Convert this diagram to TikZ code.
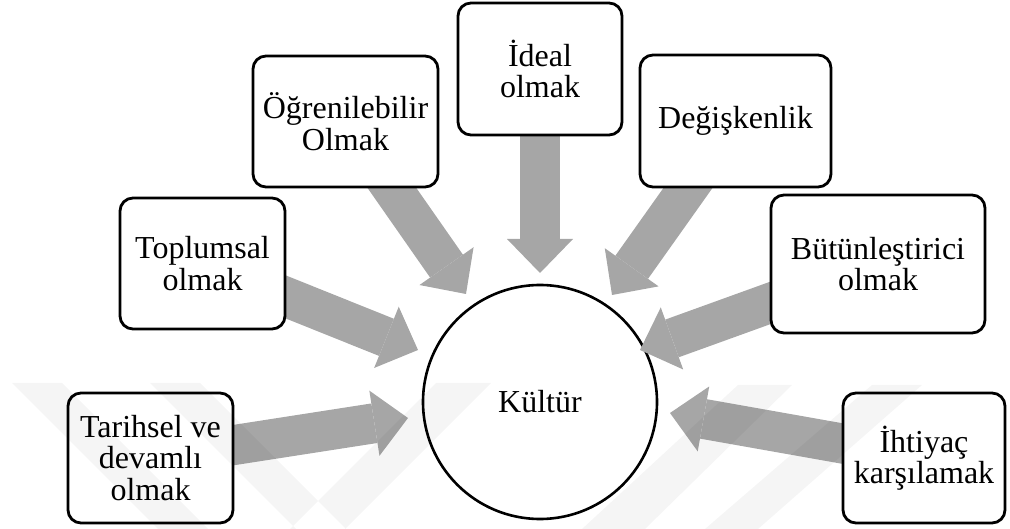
\documentclass[tikz,border=0pt]{standalone}
\usepackage{fontspec}
\setmainfont{Liberation Serif}
\usetikzlibrary{arrows.meta}
\definecolor{arrowgray}{RGB}{166,166,166}
\pgfdeclarelayer{under}
\pgfdeclarelayer{over}
\pgfsetlayers{under,main,over}
\begin{document}
\begin{tikzpicture}[x=1pt,y=-1pt,
  box/.style={draw=black, line width=2.8pt, rounded corners=13pt, fill=white,
    align=center, inner sep=0pt, font=\fontsize{32}{31.5}\selectfont},
  hub/.style={circle, draw=black, line width=2.6pt, fill=white,
    minimum size=234pt, inner sep=0pt, font=\fontsize{32}{31.5}\selectfont},
  feed/.style={draw=arrowgray, line width=40pt,
    -{Triangle[width=66pt,length=34pt,line width=0pt]}},
  band/.style={fill=black, opacity=0.04}]
\useasboundingbox (0,0) rectangle (1010,529);

% surrounding property boxes
\node[box, minimum width=165pt, minimum height=130pt] (tar) at (150.5,458) {Tarihsel ve\\devamlı\\olmak};
\node[box, minimum width=165pt, minimum height=131pt] (top) at (202.5,263.5) {Toplumsal\\olmak};
\node[box, minimum width=185pt, minimum height=131pt] (ogr) at (345.5,121.5) {Öğrenilebilir\\Olmak};
\node[box, minimum width=164pt, minimum height=132pt] (ide) at (540,69) {İdeal\\olmak};
\node[box, minimum width=191pt, minimum height=132pt] (deg) at (735.5,121) {Değişkenlik};
\node[box, minimum width=214pt, minimum height=138pt] (but) at (878,264) {Bütünleştirici\\olmak};
\node[box, minimum width=162pt, minimum height=130pt] (iht) at (924,458) {İhtiyaç\\karşılamak};

% central circle and converging block arrows
\begin{pgfonlayer}{under}
  \node[hub] (kul) at (540,402) {Kültür};
  \coordinate (tTar) at (408,418);
  \coordinate (tTop) at (418,350);
  \coordinate (tOgr) at (466,294);
  \coordinate (tIde) at (540,273);
  \coordinate (tDeg) at (612,295);
  \coordinate (tBut) at (640,350);
  \coordinate (tIht) at (670,413);
  \draw[feed] (tar.center) -- (tTar);
  \draw[feed] (top.center) -- (tTop);
  \draw[feed] (ogr.center) -- (tOgr);
  \draw[feed] (ide.center) -- (tIde);
  \draw[feed] (deg.center) -- (tDeg);
  \draw[feed] (but.center) -- (tBut);
  \draw[feed] (iht.center) -- (tIht);
\end{pgfonlayer}

% faint diagonal background bands
\begin{pgfonlayer}{over}
  \fill[band] (12,383) -- (62,383) -- (208,529) -- (158,529) -- cycle
              (150,383) -- (200,383) -- (346,529) -- (296,529) -- cycle
              (290,529) -- (345,529) -- (491,383) -- (436,383) -- cycle
              (582,529) -- (645,529) -- (792,385) -- (738,385) -- cycle
              (705,529) -- (758,529) -- (922,385) -- (872,385) -- cycle;
\end{pgfonlayer}
\end{tikzpicture}
\end{document}
